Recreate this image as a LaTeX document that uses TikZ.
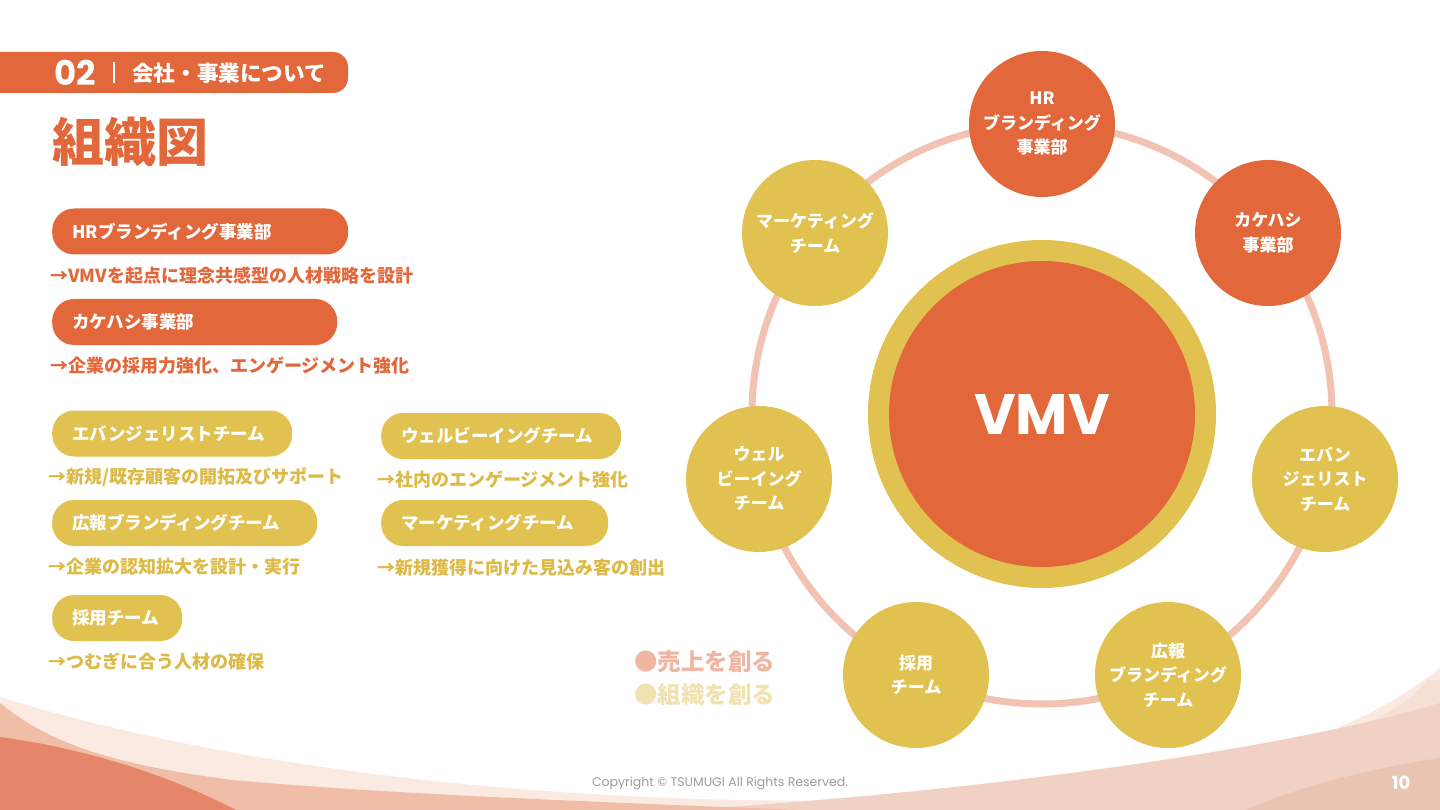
\documentclass[tikz,border=0pt]{standalone}
\usepackage{fontspec}
\newfontfamily\jp{Noto Sans CJK JP}
\newfontfamily\pop{Poppins}
\definecolor{org}{HTML}{E2673A}
\definecolor{yel}{HTML}{E1C150}
\definecolor{ytxt}{HTML}{DDB945}
\definecolor{ringc}{HTML}{F2C3B3}
\definecolor{lpink}{HTML}{EFB7A3}
\definecolor{lyel}{HTML}{F1E2B2}
\definecolor{wpale}{HTML}{FAEAE2}
\definecolor{wlight}{HTML}{F6DFD5}
\definecolor{wmid}{HTML}{F0D1C3}
\definecolor{wdark}{HTML}{E9C4B3}
\definecolor{wpeach}{HTML}{F0BEA7}
\definecolor{worange}{HTML}{E5856A}
\definecolor{cgray}{HTML}{9C9C9C}
\begin{document}
\begin{tikzpicture}[x=1pt,y=-1pt,
  pill/.style={rectangle, rounded corners=22pt, minimum height=46pt, inner xsep=20pt, inner ysep=0pt, anchor=west, text=white, align=left, font=\jp\bfseries\fontsize{17.5}{20}\selectfont},
  opill/.style={pill, fill=org},
  ypill/.style={pill, fill=yel},
  desc/.style={anchor=west, inner sep=0pt, font=\jp\bfseries\fontsize{18}{20}\selectfont},
  odesc/.style={desc, text=org},
  ydesc/.style={desc, text=ytxt},
  sat/.style={circle, minimum size=146pt, inner sep=0pt, text=white, align=center, font=\jp\bfseries\fontsize{17}{24.5}\selectfont},
  osat/.style={sat, fill=org},
  ysat/.style={sat, fill=yel},
  legend/.style={anchor=west, inner sep=0pt, font=\jp\bfseries\fontsize{23.5}{26}\selectfont},
]
\useasboundingbox (0,0) rectangle (1440,810);
\fill[white] (0,0) rectangle (1440,810);

% bottom waves
\begin{scope}
\clip (0,0) rectangle (1440,810);
\fill[wpale] (0,697) .. controls (300,790) and (700,812) .. (1000,796) .. controls (1200,786) and (1350,740) .. (1440,668) -- (1440,810) -- (0,810) -- cycle;
\fill[wlight] (1428,680) .. controls (1380,735) and (1250,785) .. (950,812) -- (1440,812) -- (1440,680) -- cycle;
\fill[wmid] (1440,703) .. controls (1300,745) and (1000,792) .. (650,812) -- (1440,812) -- cycle;
\fill[wdark] (1440,758) .. controls (1360,770) and (1290,790) .. (1240,812) -- (1440,812) -- cycle;
\fill[wpeach] (0,703) .. controls (40,735) and (90,762) .. (233,780) .. controls (400,795) and (600,802) .. (850,812) -- (0,812) -- cycle;
\fill[worange] (0,737) .. controls (60,745) and (150,765) .. (240,812) -- (0,812) -- cycle;
\end{scope}

% header
\fill[org, rounded corners=15pt] (-30,52) rectangle (348,93);
\node[anchor=west, inner sep=0pt, text=white, font=\pop\bfseries\fontsize{34}{36}\selectfont] (num) at (54,73) {02};
\node[inner sep=0pt, fill=white, minimum width=1.6pt, minimum height=21pt] (sep) at (114,73) {};
\node[anchor=west, inner sep=0pt, text=white, font=\jp\bfseries\fontsize{21.6}{23}\selectfont] (sect) at (132,73) {会社・事業について};
\node[anchor=west, inner sep=0pt, text=org, font=\jp\bfseries\fontsize{52}{55}\selectfont] (title) at (52,142) {組織図};

% left list
\node[opill, text width=256pt] (p1) at (52,231.5) {HRブランディング事業部};
\node[odesc] (d1) at (50,276) {→VMVを起点に理念共感型の人材戦略を設計};
\node[opill, text width=245pt] (p2) at (52,322) {カケハシ事業部};
\node[odesc] (d2) at (50,366) {→企業の採用力強化、エンゲージメント強化};

\node[ypill, text width=200pt] (p3) at (52,433.5) {エバンジェリストチーム};
\node[ydesc] (d3) at (48,477) {→新規/既存顧客の開拓及びサポート};
\node[ypill, text width=225pt] (p4) at (52,523) {広報ブランディングチーム};
\node[ydesc] (d4) at (48,567) {→企業の認知拡大を設計・実行};
\node[ypill, text width=90pt] (p5) at (52,618) {採用チーム};
\node[ydesc] (d5) at (48,662) {→つむぎに合う人材の確保};

\node[ypill, text width=200pt] (p6) at (381,436) {ウェルビーイングチーム};
\node[ydesc] (d6) at (377,480) {→社内のエンゲージメント強化};
\node[ypill, text width=187pt] (p7) at (381,523) {マーケティングチーム};
\node[ydesc] (d7) at (377,568) {→新規獲得に向けた見込み客の創出};

% legend
\node[legend, text=lpink] (l1) at (634,662) {●売上を創る};
\node[legend, text=lyel] (l2) at (634,695) {●組織を創る};

% ring
\coordinate (c) at (1042,414);
\draw[ringc, line width=7pt] (c) circle[radius=290];

% center
\node[circle, fill=yel, minimum size=348pt, inner sep=0pt] (vmvring) at (c) {};
\node[circle, fill=org, minimum size=306pt, inner sep=0pt, text=white, font=\pop\bfseries\fontsize{57}{60}\selectfont] (vmv) at (c) {VMV};

% satellites
\node[osat] (hr) at (1042,124) {HR\\ブランディング\\事業部};
\node[ysat] (mk) at (815,233) {マーケティング\\チーム};
\node[ysat] (wb) at (759,479) {ウェル\\ビーイング\\チーム};
\node[ysat] (sy) at (916,675) {採用\\チーム};
\node[ysat] (kh) at (1168,675) {広報\\ブランディング\\チーム};
\node[ysat] (ev) at (1325,479) {エバン\\ジェリスト\\チーム};
\node[osat] (ka) at (1268,233) {カケハシ\\事業部};

% footer
\node[inner sep=0pt, text=cgray, font=\pop\fontsize{12.5}{14}\selectfont] (copy) at (720,783) {Copyright © TSUMUGI All Rights Reserved.};
\node[inner sep=0pt, text=white, font=\pop\bfseries\fontsize{18}{20}\selectfont] (page) at (1401,783) {10};
\end{tikzpicture}
\end{document}
